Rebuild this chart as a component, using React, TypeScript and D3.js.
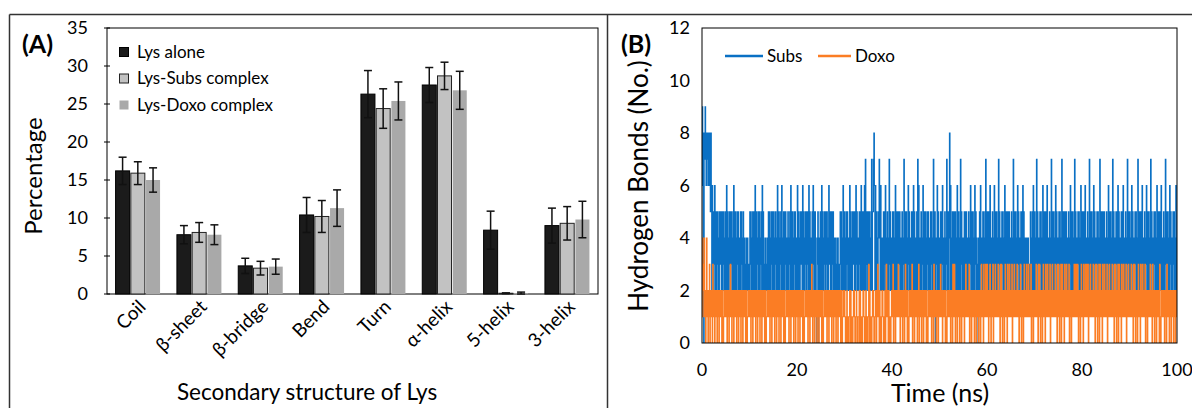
import * as d3 from 'd3';

// ---- panel A data ----
const categories = ['Coil', 'β-sheet', 'β-bridge', 'Bend', 'Turn', 'α-helix', '5-helix', '3-helix'];
const seriesNames = ['Lys alone', 'Lys-Subs complex', 'Lys-Doxo complex'];
const lysAlone = [16.2, 7.8, 3.7, 10.4, 26.3, 27.5, 8.4, 9.0];
const lysAloneErr = [1.8, 1.2, 1.0, 2.3, 3.1, 2.3, 2.5, 2.3];
const lysSubs = [15.9, 8.1, 3.4, 10.2, 24.4, 28.7, 0.1, 9.3];
const lysSubsErr = [1.5, 1.3, 0.9, 2.1, 2.6, 1.8, 0.05, 2.2];
const lysDoxo = [15.0, 7.8, 3.6, 11.3, 25.4, 26.8, 0.1, 9.8];
const lysDoxoErr = [1.6, 1.3, 1.0, 2.4, 2.5, 2.5, 0.15, 2.4];
const yTicksA = [0, 5, 10, 15, 20, 25, 30, 35];

// ---- panel B data: H-bond counts, 10 samples per ns (one chunk per ns) ----
const subsChunks = [
  '6981087986', '8786886858', '5264253625', '2535242535', '4252535242', '5262524352', '2535242625', '5242535243', '2525342524', '4232424232',
  '2535242524', '5262524352', '2524352625', '4232423242', '5252425352', '2524352426', '5252435262', '4252535242', '2524352625', '5242535242',
  '2625242535', '5262524352', '2535262524', '4252635252', '2043502425', '5262524352', '2535242635', '4252535242', '4232424232', '2535242625',
  '5242535243', '2625242535', '5252635242', '2535262524', '5262725352', '2535242725', '5786262542', '2547526242', '4252536242', '5242735242',
  '2535242625', '4252535242', '2524372524', '5242635242', '2535262524', '4252736242', '2524362524', '5242535242', '2535242725', '5024362524',
  '4252536242', '2524372524', '5826242535', '2535242625', '5242735242', '4252535242', '2524362524', '5242635242', '3042536242', '2535242725',
  '4252536242', '2524362524', '5242735242', '2535242625', '4252535242', '2524372524', '5242635242', '2535262524', '4242424232', '2524252624',
  '5242735242', '2535242625', '4252536242', '2524372524', '5242635242', '2535242725', '4252535242', '2524362524', '5242735242', '2535242625',
  '4252536242', '2524372524', '5242635242', '2535242725', '4252535242', '2524362524', '5242735242', '2535262524', '4252536242', '2524372524',
  '5242635242', '2535242725', '4252536242', '2524362524', '5242735242', '2535242625', '4252536242', '2524372524', '5242635242', '2535242624'
];
const doxoChunks = [
  '3413241202', '4120213012', '1203121021', '2102120121', '1202101212', '2120121021', '3120212012', '1210212021', '2102120121', '1202101212',
  '2120121021', '1210212012', '2102120121', '1202101212', '2120121021', '1210212012', '2102120121', '1202101212', '2120121021', '1210212012',
  '2102120121', '1202101212', '2120121021', '1310212012', '2102120121', '1202101212', '2120121021', '1210212012', '2102120121', '1202101212',
  '2100120101', '1202101012', '2100121001', '1202101012', '2100120101', '1302101012', '2100121021', '3120201012', '2100120131', '1202101012',
  '2130121021', '1213212012', '2102120131', '1202101212', '2130121021', '1210213012', '2102120121', '1202101212', '2120121031', '1210212012',
  '2132120121', '1202101212', '2120121031', '1310212012', '2102120121', '1202131212', '2130121021', '1210212012', '2102120131', '1203121312',
  '3120213102', '2130121321', '1213212031', '3102120131', '1203121312', '2130121321', '1213212012', '3102120131', '1213121312', '2130121021',
  '1213212031', '3102120131', '1203121312', '2130121321', '1213212031', '3102130131', '1203121312', '2130121021', '1213213131', '3102120131',
  '1203121312', '3130121321', '1213212031', '3102130131', '1203121312', '2130121321', '1213212031', '3102130131', '1203121312', '2130121321',
  '1213212031', '3102120131', '1203121312', '2130121021', '1213212031', '2102120121', '1203101212', '2120121031', '1210212012', '2102120121'
];

const toSeries = (chunks: string[]): number[] => chunks.join('').split('').map(Number);
const subs = toSeries(subsChunks);
const doxo = toSeries(doxoChunks);
const yTicksB = [0, 2, 4, 6, 8, 10, 12];
const xTicksB = [0, 20, 40, 60, 80, 100];

const FONT = 'Lato, "Noto Sans", sans-serif';

function PanelA() {
  const left = 107;
  const right = 598;
  const top = 28;
  const bottom = 294;

  const y = d3.scaleLinear().domain([0, 35]).range([bottom, top]);
  const x = d3.scaleBand<string>().domain(categories).range([left, right]).paddingInner(0.235).paddingOuter(0.12);
  const xs = d3.scaleBand<number>().domain([0, 1, 2]).range([0, x.bandwidth()]).padding(0.08);

  const values = [lysAlone, lysSubs, lysDoxo];
  const errs = [lysAloneErr, lysSubsErr, lysDoxoErr];
  const fills = ['#1b1b1b', '#c2c2c2', '#a9a9a9'];
  const strokes = ['#000', '#222', 'none'];

  return (
    <g>
      <text x={22} y={53} fontSize={25} fontWeight="bold" fontFamily={FONT}>(A)</text>
      <rect x={left} y={top} width={right - left} height={bottom - top} fill="none" stroke="#000" strokeWidth={1} />
      {yTicksA.map((t) => (
        <g key={t}>
          <line x1={left - 3} x2={left + 3} y1={y(t)} y2={y(t)} stroke="#000" />
          <text x={88} y={y(t)} dy="0.35em" textAnchor="end" fontSize={18} fontFamily={FONT}>{t}</text>
        </g>
      ))}
      {values.map((vals, s) =>
        vals.map((v, i) => {
          const bx = (x(categories[i]) ?? 0) + (xs(s) ?? 0);
          const bw = xs.bandwidth();
          const cx = bx + bw / 2;
          const e = errs[s][i];
          return (
            <g key={`${s}-${i}`}>
              <rect x={bx} y={y(v)} width={bw} height={y(0) - y(v)} fill={fills[s]} stroke={strokes[s]} strokeWidth={1} />
              <line x1={cx} x2={cx} y1={y(v + e)} y2={y(Math.max(0, v - e))} stroke="#111" strokeWidth={1.5} />
              <line x1={cx - 4} x2={cx + 4} y1={y(v + e)} y2={y(v + e)} stroke="#111" strokeWidth={1.5} />
              <line x1={cx - 4} x2={cx + 4} y1={y(Math.max(0, v - e))} y2={y(Math.max(0, v - e))} stroke="#111" strokeWidth={1.5} />
            </g>
          );
        })
      )}
      {seriesNames.map((n, s) => (
        <g key={n}>
          <rect x={119.5} y={47.5 + s * 26.5} width={9} height={9} fill={fills[s]} stroke={strokes[s]} />
          <text x={137} y={52 + s * 26.5} dy="0.35em" fontSize={17} fontFamily={FONT}>{n}</text>
        </g>
      ))}
      {categories.map((c) => {
        const cx = (x(c) ?? 0) + x.bandwidth() / 2;
        return (
          <text key={c} transform={`translate(${cx + 9},${bottom + 14}) rotate(-45)`} textAnchor="end" fontSize={19} fontFamily={FONT}>{c}</text>
        );
      })}
      <text transform={`translate(42,${(top + bottom) / 2 + 15}) rotate(-90)`} textAnchor="middle" fontSize={24} fontFamily={FONT}>Percentage</text>
      <text x={307} y={400} textAnchor="middle" fontSize={22.5} fontFamily={FONT}>Secondary structure of Lys</text>
    </g>
  );
}

function PanelB() {
  const left = 702;
  const right = 1177;
  const top = 28;
  const bottom = 343;

  const x = d3.scaleLinear().domain([0, 100]).range([left, right]);
  const y = d3.scaleLinear().domain([0, 12]).range([bottom, top]);
  const lineGen = (arr: number[]) =>
    d3.line<number>()
      .curve(d3.curveStep)
      .x((_d, i) => x((i * 100) / (arr.length - 1)))
      .y((d) => y(d))(arr) ?? '';

  return (
    <g>
      <text x={621} y={53} fontSize={25} fontWeight="bold" fontFamily={FONT}>(B)</text>
      <defs>
        <clipPath id="clipB">
          <rect x={left} y={top} width={right - left} height={bottom - top} />
        </clipPath>
      </defs>
      <g clipPath="url(#clipB)">
        <path d={lineGen(subs)} fill="none" stroke="#0a70c4" strokeWidth={1.2} />
        <path d={lineGen(doxo)} fill="none" stroke="#fb7d24" strokeWidth={1.2} />
      </g>
      <rect x={left} y={top} width={right - left} height={bottom - top} fill="none" stroke="#000" strokeWidth={1} />
      {yTicksB.map((t) => (
        <text key={t} x={690} y={y(t)} dy="0.35em" textAnchor="end" fontSize={18} fontFamily={FONT}>{t}</text>
      ))}
      {xTicksB.map((t) => (
        <text key={t} x={x(t)} y={370} dy="0.35em" textAnchor="middle" fontSize={18} fontFamily={FONT}>{t}</text>
      ))}
      <line x1={725} x2={763} y1={56} y2={56} stroke="#0a70c4" strokeWidth={2.5} />
      <text x={767} y={56} dy="0.35em" fontSize={17} fontFamily={FONT}>Subs</text>
      <line x1={818} x2={851} y1={56} y2={56} stroke="#fb7d24" strokeWidth={2.5} />
      <text x={855} y={56} dy="0.35em" fontSize={17} fontFamily={FONT}>Doxo</text>
      <text transform={`translate(648,186) rotate(-90)`} textAnchor="middle" fontSize={26} fontFamily={FONT}>Hydrogen Bonds (No.)</text>
      <text x={940} y={402} textAnchor="middle" fontSize={25} fontFamily={FONT}>Time (ns)</text>
    </g>
  );
}

export default function App() {
  return (
    <div style={{ position: 'absolute', left: 0, top: 0 }}>
      <svg width={1192} height={408} style={{ display: 'block', background: '#fff' }}>
        <line x1={9.5} x2={1192} y1={14.5} y2={14.5} stroke="#333" strokeWidth={1.5} />
        <line x1={9.5} x2={9.5} y1={14.5} y2={408} stroke="#333" strokeWidth={1.5} />
        <line x1={607.5} x2={607.5} y1={14.5} y2={408} stroke="#333" strokeWidth={1.5} />
        <PanelA />
        <PanelB />
      </svg>
    </div>
  );
}
